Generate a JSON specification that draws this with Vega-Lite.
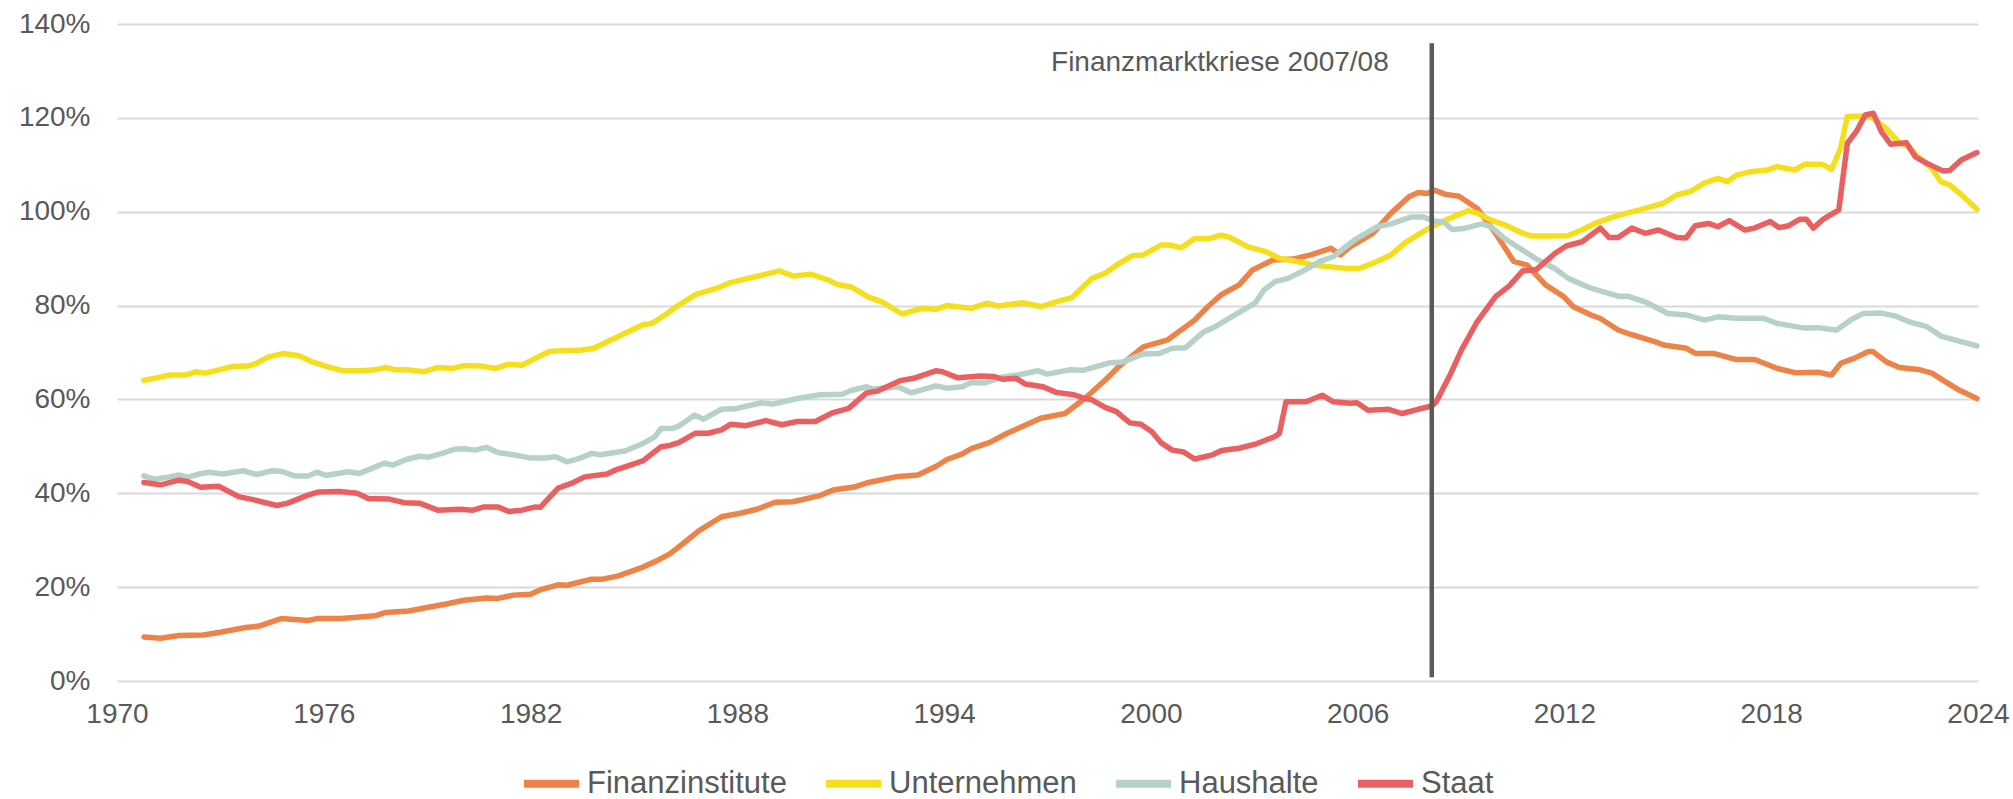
{
  "$schema": "https://vega.github.io/schema/vega-lite/v6.json",
  "width": 1861,
  "height": 657,
  "autosize": {"type": "none"},
  "padding": {"left": 117, "top": 24, "right": 35, "bottom": 118},
  "background": "white",
  "config": {"view": {"stroke": null}, "font": "Liberation Sans"},
  "datasets": {
    "series": [
      {"sector":"Finanzinstitute","year":1970.78,"value":9.4},{"sector":"Finanzinstitute","year":1971.27,"value":9.1},{"sector":"Finanzinstitute","year":1971.79,"value":9.7},{"sector":"Finanzinstitute","year":1972.5,"value":9.8},{"sector":"Finanzinstitute","year":1973.0,"value":10.4},{"sector":"Finanzinstitute","year":1973.73,"value":11.4},{"sector":"Finanzinstitute","year":1974.12,"value":11.7},{"sector":"Finanzinstitute","year":1974.76,"value":13.3},{"sector":"Finanzinstitute","year":1975.54,"value":12.9},{"sector":"Finanzinstitute","year":1975.8,"value":13.3},{"sector":"Finanzinstitute","year":1976.5,"value":13.3},{"sector":"Finanzinstitute","year":1976.97,"value":13.6},{"sector":"Finanzinstitute","year":1977.49,"value":13.9},{"sector":"Finanzinstitute","year":1977.8,"value":14.6},{"sector":"Finanzinstitute","year":1978.46,"value":14.9},{"sector":"Finanzinstitute","year":1979.04,"value":15.7},{"sector":"Finanzinstitute","year":1979.55,"value":16.4},{"sector":"Finanzinstitute","year":1980.07,"value":17.2},{"sector":"Finanzinstitute","year":1980.72,"value":17.7},{"sector":"Finanzinstitute","year":1981.05,"value":17.6},{"sector":"Finanzinstitute","year":1981.5,"value":18.3},{"sector":"Finanzinstitute","year":1982.0,"value":18.5},{"sector":"Finanzinstitute","year":1982.27,"value":19.4},{"sector":"Finanzinstitute","year":1982.8,"value":20.5},{"sector":"Finanzinstitute","year":1983.06,"value":20.4},{"sector":"Finanzinstitute","year":1983.77,"value":21.7},{"sector":"Finanzinstitute","year":1984.09,"value":21.7},{"sector":"Finanzinstitute","year":1984.55,"value":22.4},{"sector":"Finanzinstitute","year":1985.2,"value":24.1},{"sector":"Finanzinstitute","year":1985.66,"value":25.6},{"sector":"Finanzinstitute","year":1986.04,"value":27.1},{"sector":"Finanzinstitute","year":1986.43,"value":29.3},{"sector":"Finanzinstitute","year":1986.88,"value":32.0},{"sector":"Finanzinstitute","year":1987.54,"value":35.0},{"sector":"Finanzinstitute","year":1988.05,"value":35.7},{"sector":"Finanzinstitute","year":1988.57,"value":36.6},{"sector":"Finanzinstitute","year":1989.1,"value":38.1},{"sector":"Finanzinstitute","year":1989.61,"value":38.2},{"sector":"Finanzinstitute","year":1990.39,"value":39.5},{"sector":"Finanzinstitute","year":1990.78,"value":40.7},{"sector":"Finanzinstitute","year":1991.43,"value":41.4},{"sector":"Finanzinstitute","year":1991.81,"value":42.3},{"sector":"Finanzinstitute","year":1992.59,"value":43.5},{"sector":"Finanzinstitute","year":1993.24,"value":43.9},{"sector":"Finanzinstitute","year":1993.76,"value":45.7},{"sector":"Finanzinstitute","year":1994.08,"value":47.2},{"sector":"Finanzinstitute","year":1994.53,"value":48.4},{"sector":"Finanzinstitute","year":1994.79,"value":49.5},{"sector":"Finanzinstitute","year":1995.31,"value":50.8},{"sector":"Finanzinstitute","year":1995.83,"value":52.8},{"sector":"Finanzinstitute","year":1996.35,"value":54.5},{"sector":"Finanzinstitute","year":1996.8,"value":56.0},{"sector":"Finanzinstitute","year":1997.51,"value":57.0},{"sector":"Finanzinstitute","year":1998.1,"value":60.3},{"sector":"Finanzinstitute","year":1998.67,"value":64.1},{"sector":"Finanzinstitute","year":1999.07,"value":67.0},{"sector":"Finanzinstitute","year":1999.78,"value":71.2},{"sector":"Finanzinstitute","year":2000.49,"value":72.7},{"sector":"Finanzinstitute","year":2001.27,"value":76.9},{"sector":"Finanzinstitute","year":2001.66,"value":79.8},{"sector":"Finanzinstitute","year":2002.04,"value":82.3},{"sector":"Finanzinstitute","year":2002.56,"value":84.4},{"sector":"Finanzinstitute","year":2002.95,"value":87.6},{"sector":"Finanzinstitute","year":2003.54,"value":89.7},{"sector":"Finanzinstitute","year":2004.12,"value":89.9},{"sector":"Finanzinstitute","year":2004.64,"value":90.8},{"sector":"Finanzinstitute","year":2005.22,"value":92.2},{"sector":"Finanzinstitute","year":2005.5,"value":90.8},{"sector":"Finanzinstitute","year":2005.78,"value":92.5},{"sector":"Finanzinstitute","year":2006.44,"value":95.4},{"sector":"Finanzinstitute","year":2006.97,"value":99.7},{"sector":"Finanzinstitute","year":2007.49,"value":103.2},{"sector":"Finanzinstitute","year":2007.76,"value":104.1},{"sector":"Finanzinstitute","year":2008.02,"value":103.9},{"sector":"Finanzinstitute","year":2008.22,"value":104.6},{"sector":"Finanzinstitute","year":2008.55,"value":103.7},{"sector":"Finanzinstitute","year":2008.94,"value":103.3},{"sector":"Finanzinstitute","year":2009.47,"value":100.7},{"sector":"Finanzinstitute","year":2010.0,"value":95.4},{"sector":"Finanzinstitute","year":2010.53,"value":89.4},{"sector":"Finanzinstitute","year":2010.92,"value":88.6},{"sector":"Finanzinstitute","year":2011.45,"value":84.4},{"sector":"Finanzinstitute","year":2011.98,"value":81.9},{"sector":"Finanzinstitute","year":2012.25,"value":79.8},{"sector":"Finanzinstitute","year":2012.77,"value":78.0},{"sector":"Finanzinstitute","year":2013.03,"value":77.3},{"sector":"Finanzinstitute","year":2013.56,"value":74.8},{"sector":"Finanzinstitute","year":2013.83,"value":74.1},{"sector":"Finanzinstitute","year":2014.62,"value":72.3},{"sector":"Finanzinstitute","year":2014.88,"value":71.6},{"sector":"Finanzinstitute","year":2015.54,"value":70.9},{"sector":"Finanzinstitute","year":2015.8,"value":69.8},{"sector":"Finanzinstitute","year":2016.33,"value":69.8},{"sector":"Finanzinstitute","year":2016.99,"value":68.5},{"sector":"Finanzinstitute","year":2017.52,"value":68.5},{"sector":"Finanzinstitute","year":2018.18,"value":66.6},{"sector":"Finanzinstitute","year":2018.69,"value":65.7},{"sector":"Finanzinstitute","year":2019.35,"value":65.8},{"sector":"Finanzinstitute","year":2019.75,"value":65.2},{"sector":"Finanzinstitute","year":2020.02,"value":67.7},{"sector":"Finanzinstitute","year":2020.42,"value":68.8},{"sector":"Finanzinstitute","year":2020.82,"value":70.2},{"sector":"Finanzinstitute","year":2020.95,"value":70.2},{"sector":"Finanzinstitute","year":2021.34,"value":68.0},{"sector":"Finanzinstitute","year":2021.72,"value":66.8},{"sector":"Finanzinstitute","year":2022.27,"value":66.4},{"sector":"Finanzinstitute","year":2022.66,"value":65.6},{"sector":"Finanzinstitute","year":2023.05,"value":63.8},{"sector":"Finanzinstitute","year":2023.45,"value":62.0},{"sector":"Finanzinstitute","year":2023.97,"value":60.2},

      {"sector":"Unternehmen","year":1970.78,"value":64.1},{"sector":"Unternehmen","year":1971.14,"value":64.6},{"sector":"Unternehmen","year":1971.53,"value":65.2},{"sector":"Unternehmen","year":1971.98,"value":65.2},{"sector":"Unternehmen","year":1972.3,"value":65.9},{"sector":"Unternehmen","year":1972.56,"value":65.6},{"sector":"Unternehmen","year":1972.95,"value":66.3},{"sector":"Unternehmen","year":1973.34,"value":67.0},{"sector":"Unternehmen","year":1973.8,"value":67.1},{"sector":"Unternehmen","year":1974.05,"value":67.7},{"sector":"Unternehmen","year":1974.38,"value":69.0},{"sector":"Unternehmen","year":1974.83,"value":69.8},{"sector":"Unternehmen","year":1975.28,"value":69.3},{"sector":"Unternehmen","year":1975.67,"value":68.0},{"sector":"Unternehmen","year":1976.19,"value":66.8},{"sector":"Unternehmen","year":1976.58,"value":66.1},{"sector":"Unternehmen","year":1977.1,"value":66.1},{"sector":"Unternehmen","year":1977.49,"value":66.3},{"sector":"Unternehmen","year":1977.8,"value":66.8},{"sector":"Unternehmen","year":1978.07,"value":66.3},{"sector":"Unternehmen","year":1978.46,"value":66.3},{"sector":"Unternehmen","year":1978.91,"value":65.9},{"sector":"Unternehmen","year":1979.3,"value":66.8},{"sector":"Unternehmen","year":1979.75,"value":66.6},{"sector":"Unternehmen","year":1980.07,"value":67.2},{"sector":"Unternehmen","year":1980.59,"value":67.1},{"sector":"Unternehmen","year":1980.98,"value":66.6},{"sector":"Unternehmen","year":1981.37,"value":67.5},{"sector":"Unternehmen","year":1981.75,"value":67.3},{"sector":"Unternehmen","year":1982.15,"value":68.8},{"sector":"Unternehmen","year":1982.54,"value":70.2},{"sector":"Unternehmen","year":1982.93,"value":70.4},{"sector":"Unternehmen","year":1983.44,"value":70.5},{"sector":"Unternehmen","year":1983.84,"value":70.9},{"sector":"Unternehmen","year":1984.23,"value":72.3},{"sector":"Unternehmen","year":1984.74,"value":74.1},{"sector":"Unternehmen","year":1985.26,"value":75.9},{"sector":"Unternehmen","year":1985.52,"value":76.2},{"sector":"Unternehmen","year":1985.9,"value":78.0},{"sector":"Unternehmen","year":1986.3,"value":80.1},{"sector":"Unternehmen","year":1986.8,"value":82.4},{"sector":"Unternehmen","year":1987.41,"value":83.7},{"sector":"Unternehmen","year":1987.8,"value":84.9},{"sector":"Unternehmen","year":1988.31,"value":85.8},{"sector":"Unternehmen","year":1988.83,"value":86.7},{"sector":"Unternehmen","year":1989.22,"value":87.4},{"sector":"Unternehmen","year":1989.61,"value":86.3},{"sector":"Unternehmen","year":1990.13,"value":86.7},{"sector":"Unternehmen","year":1990.65,"value":85.4},{"sector":"Unternehmen","year":1990.91,"value":84.5},{"sector":"Unternehmen","year":1991.3,"value":84.0},{"sector":"Unternehmen","year":1991.81,"value":81.8},{"sector":"Unternehmen","year":1992.2,"value":80.8},{"sector":"Unternehmen","year":1992.78,"value":78.2},{"sector":"Unternehmen","year":1993.36,"value":79.4},{"sector":"Unternehmen","year":1993.76,"value":79.2},{"sector":"Unternehmen","year":1994.08,"value":80.0},{"sector":"Unternehmen","year":1994.79,"value":79.4},{"sector":"Unternehmen","year":1995.25,"value":80.5},{"sector":"Unternehmen","year":1995.57,"value":79.9},{"sector":"Unternehmen","year":1996.28,"value":80.6},{"sector":"Unternehmen","year":1996.8,"value":79.8},{"sector":"Unternehmen","year":1997.25,"value":80.8},{"sector":"Unternehmen","year":1997.71,"value":81.7},{"sector":"Unternehmen","year":1998.29,"value":85.8},{"sector":"Unternehmen","year":1998.67,"value":86.9},{"sector":"Unternehmen","year":1999.0,"value":88.6},{"sector":"Unternehmen","year":1999.45,"value":90.6},{"sector":"Unternehmen","year":1999.78,"value":90.8},{"sector":"Unternehmen","year":2000.29,"value":92.9},{"sector":"Unternehmen","year":2000.55,"value":92.9},{"sector":"Unternehmen","year":2000.88,"value":92.3},{"sector":"Unternehmen","year":2001.27,"value":94.3},{"sector":"Unternehmen","year":2001.72,"value":94.3},{"sector":"Unternehmen","year":2002.04,"value":95.0},{"sector":"Unternehmen","year":2002.3,"value":94.5},{"sector":"Unternehmen","year":2002.82,"value":92.5},{"sector":"Unternehmen","year":2003.34,"value":91.5},{"sector":"Unternehmen","year":2003.72,"value":90.1},{"sector":"Unternehmen","year":2004.24,"value":89.4},{"sector":"Unternehmen","year":2004.76,"value":88.6},{"sector":"Unternehmen","year":2005.16,"value":88.3},{"sector":"Unternehmen","year":2005.7,"value":87.9},{"sector":"Unternehmen","year":2006.04,"value":87.9},{"sector":"Unternehmen","year":2006.44,"value":89.0},{"sector":"Unternehmen","year":2006.97,"value":90.8},{"sector":"Unternehmen","year":2007.36,"value":93.3},{"sector":"Unternehmen","year":2007.89,"value":95.7},{"sector":"Unternehmen","year":2008.15,"value":96.8},{"sector":"Unternehmen","year":2008.55,"value":98.2},{"sector":"Unternehmen","year":2009.2,"value":100.2},{"sector":"Unternehmen","year":2009.47,"value":99.7},{"sector":"Unternehmen","year":2009.87,"value":98.2},{"sector":"Unternehmen","year":2010.26,"value":97.2},{"sector":"Unternehmen","year":2010.79,"value":95.4},{"sector":"Unternehmen","year":2011.06,"value":94.8},{"sector":"Unternehmen","year":2011.58,"value":94.8},{"sector":"Unternehmen","year":2012.11,"value":94.9},{"sector":"Unternehmen","year":2012.5,"value":96.1},{"sector":"Unternehmen","year":2012.89,"value":97.5},{"sector":"Unternehmen","year":2013.42,"value":98.9},{"sector":"Unternehmen","year":2013.81,"value":99.7},{"sector":"Unternehmen","year":2014.34,"value":100.7},{"sector":"Unternehmen","year":2014.87,"value":101.8},{"sector":"Unternehmen","year":2015.26,"value":103.6},{"sector":"Unternehmen","year":2015.66,"value":104.3},{"sector":"Unternehmen","year":2016.05,"value":106.1},{"sector":"Unternehmen","year":2016.45,"value":107.1},{"sector":"Unternehmen","year":2016.73,"value":106.4},{"sector":"Unternehmen","year":2016.99,"value":107.8},{"sector":"Unternehmen","year":2017.38,"value":108.5},{"sector":"Unternehmen","year":2017.9,"value":108.9},{"sector":"Unternehmen","year":2018.17,"value":109.6},{"sector":"Unternehmen","year":2018.69,"value":108.9},{"sector":"Unternehmen","year":2018.97,"value":110.1},{"sector":"Unternehmen","year":2019.49,"value":110.1},{"sector":"Unternehmen","year":2019.75,"value":109.0},{"sector":"Unternehmen","year":2020.01,"value":113.5},{"sector":"Unternehmen","year":2020.21,"value":120.3},{"sector":"Unternehmen","year":2020.67,"value":120.4},{"sector":"Unternehmen","year":2020.93,"value":120.0},{"sector":"Unternehmen","year":2021.33,"value":117.8},{"sector":"Unternehmen","year":2021.72,"value":114.6},{"sector":"Unternehmen","year":2021.98,"value":113.9},{"sector":"Unternehmen","year":2022.27,"value":111.7},{"sector":"Unternehmen","year":2022.66,"value":109.2},{"sector":"Unternehmen","year":2022.92,"value":106.4},{"sector":"Unternehmen","year":2023.18,"value":105.7},{"sector":"Unternehmen","year":2023.58,"value":103.2},{"sector":"Unternehmen","year":2023.97,"value":100.5},

      {"sector":"Haushalte","year":1970.78,"value":43.7},{"sector":"Haushalte","year":1971.07,"value":43.0},{"sector":"Haushalte","year":1971.53,"value":43.5},{"sector":"Haushalte","year":1971.79,"value":43.9},{"sector":"Haushalte","year":1972.05,"value":43.4},{"sector":"Haushalte","year":1972.37,"value":44.1},{"sector":"Haushalte","year":1972.69,"value":44.5},{"sector":"Haushalte","year":1973.08,"value":44.1},{"sector":"Haushalte","year":1973.66,"value":44.8},{"sector":"Haushalte","year":1974.05,"value":44.0},{"sector":"Haushalte","year":1974.51,"value":44.8},{"sector":"Haushalte","year":1974.76,"value":44.7},{"sector":"Haushalte","year":1975.15,"value":43.7},{"sector":"Haushalte","year":1975.54,"value":43.7},{"sector":"Haushalte","year":1975.8,"value":44.5},{"sector":"Haushalte","year":1976.06,"value":43.8},{"sector":"Haushalte","year":1976.7,"value":44.6},{"sector":"Haushalte","year":1977.03,"value":44.2},{"sector":"Haushalte","year":1977.36,"value":45.2},{"sector":"Haushalte","year":1977.75,"value":46.4},{"sector":"Haushalte","year":1978.0,"value":46.0},{"sector":"Haushalte","year":1978.39,"value":47.2},{"sector":"Haushalte","year":1978.78,"value":47.9},{"sector":"Haushalte","year":1979.04,"value":47.7},{"sector":"Haushalte","year":1979.43,"value":48.5},{"sector":"Haushalte","year":1979.81,"value":49.4},{"sector":"Haushalte","year":1980.07,"value":49.5},{"sector":"Haushalte","year":1980.39,"value":49.2},{"sector":"Haushalte","year":1980.72,"value":49.8},{"sector":"Haushalte","year":1981.05,"value":48.7},{"sector":"Haushalte","year":1981.5,"value":48.2},{"sector":"Haushalte","year":1982.01,"value":47.5},{"sector":"Haushalte","year":1982.41,"value":47.5},{"sector":"Haushalte","year":1982.73,"value":47.8},{"sector":"Haushalte","year":1983.06,"value":46.7},{"sector":"Haushalte","year":1983.44,"value":47.5},{"sector":"Haushalte","year":1983.77,"value":48.5},{"sector":"Haushalte","year":1984.02,"value":48.2},{"sector":"Haushalte","year":1984.74,"value":49.0},{"sector":"Haushalte","year":1985.26,"value":50.6},{"sector":"Haushalte","year":1985.6,"value":52.0},{"sector":"Haushalte","year":1985.79,"value":53.8},{"sector":"Haushalte","year":1986.1,"value":53.8},{"sector":"Haushalte","year":1986.3,"value":54.3},{"sector":"Haushalte","year":1986.76,"value":56.7},{"sector":"Haushalte","year":1987.02,"value":55.8},{"sector":"Haushalte","year":1987.54,"value":57.9},{"sector":"Haushalte","year":1987.93,"value":58.0},{"sector":"Haushalte","year":1988.7,"value":59.3},{"sector":"Haushalte","year":1989.03,"value":59.0},{"sector":"Haushalte","year":1989.74,"value":60.2},{"sector":"Haushalte","year":1990.39,"value":61.0},{"sector":"Haushalte","year":1991.04,"value":61.1},{"sector":"Haushalte","year":1991.3,"value":61.9},{"sector":"Haushalte","year":1991.75,"value":62.7},{"sector":"Haushalte","year":1991.94,"value":62.2},{"sector":"Haushalte","year":1992.66,"value":62.7},{"sector":"Haushalte","year":1993.04,"value":61.4},{"sector":"Haushalte","year":1993.76,"value":62.9},{"sector":"Haushalte","year":1994.08,"value":62.4},{"sector":"Haushalte","year":1994.53,"value":62.7},{"sector":"Haushalte","year":1994.79,"value":63.6},{"sector":"Haushalte","year":1995.18,"value":63.5},{"sector":"Haushalte","year":1995.7,"value":64.8},{"sector":"Haushalte","year":1996.22,"value":65.3},{"sector":"Haushalte","year":1996.73,"value":66.1},{"sector":"Haushalte","year":1996.99,"value":65.4},{"sector":"Haushalte","year":1997.64,"value":66.3},{"sector":"Haushalte","year":1998.03,"value":66.2},{"sector":"Haushalte","year":1998.41,"value":67.0},{"sector":"Haushalte","year":1998.81,"value":67.8},{"sector":"Haushalte","year":1999.19,"value":68.0},{"sector":"Haushalte","year":1999.78,"value":69.7},{"sector":"Haushalte","year":2000.24,"value":69.8},{"sector":"Haushalte","year":2000.62,"value":70.9},{"sector":"Haushalte","year":2001.0,"value":71.0},{"sector":"Haushalte","year":2001.53,"value":74.4},{"sector":"Haushalte","year":2001.79,"value":75.2},{"sector":"Haushalte","year":2002.5,"value":78.3},{"sector":"Haushalte","year":2003.02,"value":80.5},{"sector":"Haushalte","year":2003.28,"value":83.3},{"sector":"Haushalte","year":2003.6,"value":85.1},{"sector":"Haushalte","year":2003.98,"value":85.8},{"sector":"Haushalte","year":2004.5,"value":87.7},{"sector":"Haushalte","year":2004.9,"value":89.4},{"sector":"Haushalte","year":2005.29,"value":90.4},{"sector":"Haushalte","year":2005.91,"value":94.0},{"sector":"Haushalte","year":2006.57,"value":96.8},{"sector":"Haushalte","year":2006.97,"value":97.4},{"sector":"Haushalte","year":2007.56,"value":98.9},{"sector":"Haushalte","year":2007.89,"value":98.9},{"sector":"Haushalte","year":2008.28,"value":97.9},{"sector":"Haushalte","year":2008.48,"value":97.9},{"sector":"Haushalte","year":2008.74,"value":96.2},{"sector":"Haushalte","year":2009.08,"value":96.4},{"sector":"Haushalte","year":2009.6,"value":97.4},{"sector":"Haushalte","year":2009.87,"value":96.8},{"sector":"Haushalte","year":2010.26,"value":94.3},{"sector":"Haushalte","year":2010.66,"value":92.4},{"sector":"Haushalte","year":2011.19,"value":89.9},{"sector":"Haushalte","year":2011.72,"value":87.9},{"sector":"Haushalte","year":2012.11,"value":85.8},{"sector":"Haushalte","year":2012.77,"value":83.7},{"sector":"Haushalte","year":2013.56,"value":82.0},{"sector":"Haushalte","year":2013.83,"value":82.0},{"sector":"Haushalte","year":2014.34,"value":80.8},{"sector":"Haushalte","year":2015.0,"value":78.3},{"sector":"Haushalte","year":2015.54,"value":78.0},{"sector":"Haushalte","year":2016.07,"value":76.9},{"sector":"Haushalte","year":2016.45,"value":77.6},{"sector":"Haushalte","year":2016.99,"value":77.3},{"sector":"Haushalte","year":2017.77,"value":77.3},{"sector":"Haushalte","year":2018.17,"value":76.2},{"sector":"Haushalte","year":2018.96,"value":75.2},{"sector":"Haushalte","year":2019.35,"value":75.3},{"sector":"Haushalte","year":2019.9,"value":74.8},{"sector":"Haushalte","year":2020.34,"value":77.1},{"sector":"Haushalte","year":2020.67,"value":78.3},{"sector":"Haushalte","year":2021.19,"value":78.4},{"sector":"Haushalte","year":2021.59,"value":77.8},{"sector":"Haushalte","year":2021.98,"value":76.6},{"sector":"Haushalte","year":2022.52,"value":75.5},{"sector":"Haushalte","year":2022.92,"value":73.5},{"sector":"Haushalte","year":2023.32,"value":72.7},{"sector":"Haushalte","year":2023.97,"value":71.4},

      {"sector":"Staat","year":1970.78,"value":42.3},{"sector":"Staat","year":1971.27,"value":41.8},{"sector":"Staat","year":1971.79,"value":42.8},{"sector":"Staat","year":1972.05,"value":42.5},{"sector":"Staat","year":1972.43,"value":41.3},{"sector":"Staat","year":1972.95,"value":41.5},{"sector":"Staat","year":1973.53,"value":39.3},{"sector":"Staat","year":1973.98,"value":38.6},{"sector":"Staat","year":1974.64,"value":37.4},{"sector":"Staat","year":1974.96,"value":37.9},{"sector":"Staat","year":1975.54,"value":39.6},{"sector":"Staat","year":1975.86,"value":40.3},{"sector":"Staat","year":1976.45,"value":40.4},{"sector":"Staat","year":1976.97,"value":40.0},{"sector":"Staat","year":1977.29,"value":38.9},{"sector":"Staat","year":1977.87,"value":38.8},{"sector":"Staat","year":1978.33,"value":38.0},{"sector":"Staat","year":1978.78,"value":37.9},{"sector":"Staat","year":1979.3,"value":36.4},{"sector":"Staat","year":1979.95,"value":36.6},{"sector":"Staat","year":1980.33,"value":36.4},{"sector":"Staat","year":1980.65,"value":37.1},{"sector":"Staat","year":1981.05,"value":37.1},{"sector":"Staat","year":1981.37,"value":36.1},{"sector":"Staat","year":1981.75,"value":36.4},{"sector":"Staat","year":1982.15,"value":37.1},{"sector":"Staat","year":1982.28,"value":37.0},{"sector":"Staat","year":1982.8,"value":41.1},{"sector":"Staat","year":1983.18,"value":42.1},{"sector":"Staat","year":1983.57,"value":43.5},{"sector":"Staat","year":1984.22,"value":44.1},{"sector":"Staat","year":1984.48,"value":45.0},{"sector":"Staat","year":1985.26,"value":46.9},{"sector":"Staat","year":1985.78,"value":49.9},{"sector":"Staat","year":1986.04,"value":50.2},{"sector":"Staat","year":1986.3,"value":50.8},{"sector":"Staat","year":1986.79,"value":52.8},{"sector":"Staat","year":1987.15,"value":52.8},{"sector":"Staat","year":1987.54,"value":53.5},{"sector":"Staat","year":1987.8,"value":54.7},{"sector":"Staat","year":1988.25,"value":54.4},{"sector":"Staat","year":1988.83,"value":55.5},{"sector":"Staat","year":1989.29,"value":54.6},{"sector":"Staat","year":1989.74,"value":55.3},{"sector":"Staat","year":1990.26,"value":55.3},{"sector":"Staat","year":1990.78,"value":57.2},{"sector":"Staat","year":1991.23,"value":58.1},{"sector":"Staat","year":1991.75,"value":61.4},{"sector":"Staat","year":1992.07,"value":61.8},{"sector":"Staat","year":1992.72,"value":64.0},{"sector":"Staat","year":1993.11,"value":64.5},{"sector":"Staat","year":1993.76,"value":66.1},{"sector":"Staat","year":1993.95,"value":65.9},{"sector":"Staat","year":1994.4,"value":64.6},{"sector":"Staat","year":1995.04,"value":65.0},{"sector":"Staat","year":1995.44,"value":64.9},{"sector":"Staat","year":1995.7,"value":64.3},{"sector":"Staat","year":1996.09,"value":64.5},{"sector":"Staat","year":1996.35,"value":63.3},{"sector":"Staat","year":1996.87,"value":62.7},{"sector":"Staat","year":1997.25,"value":61.5},{"sector":"Staat","year":1997.77,"value":61.0},{"sector":"Staat","year":1998.09,"value":60.2},{"sector":"Staat","year":1998.29,"value":59.9},{"sector":"Staat","year":1998.67,"value":58.3},{"sector":"Staat","year":1999.0,"value":57.4},{"sector":"Staat","year":1999.39,"value":55.0},{"sector":"Staat","year":1999.71,"value":54.7},{"sector":"Staat","year":2000.03,"value":53.1},{"sector":"Staat","year":2000.29,"value":50.8},{"sector":"Staat","year":2000.62,"value":49.2},{"sector":"Staat","year":2000.95,"value":48.8},{"sector":"Staat","year":2001.27,"value":47.3},{"sector":"Staat","year":2001.79,"value":48.2},{"sector":"Staat","year":2002.05,"value":49.1},{"sector":"Staat","year":2002.56,"value":49.6},{"sector":"Staat","year":2003.08,"value":50.6},{"sector":"Staat","year":2003.6,"value":52.1},{"sector":"Staat","year":2003.73,"value":52.8},{"sector":"Staat","year":2003.92,"value":59.5},{"sector":"Staat","year":2004.5,"value":59.5},{"sector":"Staat","year":2004.97,"value":60.9},{"sector":"Staat","year":2005.29,"value":59.5},{"sector":"Staat","year":2005.78,"value":59.2},{"sector":"Staat","year":2005.98,"value":59.3},{"sector":"Staat","year":2006.3,"value":57.7},{"sector":"Staat","year":2006.9,"value":57.9},{"sector":"Staat","year":2007.29,"value":57.0},{"sector":"Staat","year":2007.75,"value":57.9},{"sector":"Staat","year":2008.15,"value":58.6},{"sector":"Staat","year":2008.28,"value":59.5},{"sector":"Staat","year":2008.68,"value":65.2},{"sector":"Staat","year":2009.01,"value":70.5},{"sector":"Staat","year":2009.47,"value":76.6},{"sector":"Staat","year":2010.0,"value":81.9},{"sector":"Staat","year":2010.4,"value":84.2},{"sector":"Staat","year":2010.79,"value":87.4},{"sector":"Staat","year":2011.19,"value":87.7},{"sector":"Staat","year":2011.72,"value":91.1},{"sector":"Staat","year":2012.05,"value":92.7},{"sector":"Staat","year":2012.51,"value":93.6},{"sector":"Staat","year":2013.04,"value":96.5},{"sector":"Staat","year":2013.3,"value":94.5},{"sector":"Staat","year":2013.56,"value":94.5},{"sector":"Staat","year":2013.96,"value":96.5},{"sector":"Staat","year":2014.34,"value":95.4},{"sector":"Staat","year":2014.73,"value":96.1},{"sector":"Staat","year":2015.26,"value":94.5},{"sector":"Staat","year":2015.53,"value":94.4},{"sector":"Staat","year":2015.79,"value":97.0},{"sector":"Staat","year":2016.18,"value":97.5},{"sector":"Staat","year":2016.45,"value":96.8},{"sector":"Staat","year":2016.78,"value":98.1},{"sector":"Staat","year":2017.24,"value":96.1},{"sector":"Staat","year":2017.51,"value":96.5},{"sector":"Staat","year":2017.97,"value":97.9},{"sector":"Staat","year":2018.23,"value":96.6},{"sector":"Staat","year":2018.5,"value":97.0},{"sector":"Staat","year":2018.83,"value":98.4},{"sector":"Staat","year":2019.02,"value":98.4},{"sector":"Staat","year":2019.22,"value":96.5},{"sector":"Staat","year":2019.49,"value":98.3},{"sector":"Staat","year":2019.96,"value":100.4},{"sector":"Staat","year":2020.21,"value":114.6},{"sector":"Staat","year":2020.47,"value":117.1},{"sector":"Staat","year":2020.73,"value":120.6},{"sector":"Staat","year":2020.96,"value":121.0},{"sector":"Staat","year":2021.19,"value":117.1},{"sector":"Staat","year":2021.46,"value":114.4},{"sector":"Staat","year":2021.92,"value":114.7},{"sector":"Staat","year":2022.18,"value":111.7},{"sector":"Staat","year":2022.52,"value":110.3},{"sector":"Staat","year":2022.98,"value":108.7},{"sector":"Staat","year":2023.18,"value":108.8},{"sector":"Staat","year":2023.51,"value":111.0},{"sector":"Staat","year":2023.97,"value":112.6}
    ]
  },
  "layer": [
    {
      "data": {"name": "series"},
      "mark": {"type": "line", "strokeWidth": 5.5, "strokeJoin": "round", "strokeCap": "round"},
      "encoding": {
        "x": {
          "field": "year", "type": "quantitative",
          "scale": {"domain": [1970, 2024], "nice": false, "zero": false},
          "axis": {
            "title": null, "values": [1970, 1976, 1982, 1988, 1994, 2000, 2006, 2012, 2018, 2024],
            "format": "d", "grid": false, "domain": false, "ticks": false, "tickSize": 0,
            "labelPadding": 19, "labelFontSize": 28, "labelColor": "#595959", "labelFont": "Liberation Sans",
            "labelFlush": false, "labelOverlap": false
          }
        },
        "y": {
          "field": "value", "type": "quantitative",
          "scale": {"domain": [0, 140], "nice": false},
          "axis": {
            "title": null, "values": [0, 20, 40, 60, 80, 100, 120, 140],
            "labelExpr": "datum.value + '%'", "grid": true, "gridColor": "#D9D9D9", "gridWidth": 2,
            "domain": false, "ticks": false, "tickSize": 0, "labelPadding": 27,
            "labelFontSize": 28, "labelColor": "#595959", "labelFont": "Liberation Sans"
          }
        },
        "color": {
          "field": "sector", "type": "nominal",
          "scale": {
            "domain": ["Finanzinstitute", "Unternehmen", "Haushalte", "Staat"],
            "range": ["#ED8347", "#F5DF1C", "#B5D1C8", "#EA5F5F"]
          },
          "legend": {
            "title": null, "orient": "none", "legendX": 403, "legendY": 728, "direction": "horizontal",
            "symbolType": "stroke", "symbolSize": 3025, "symbolStrokeWidth": 8,
            "labelFontSize": 31, "labelColor": "#595959", "labelFont": "Liberation Sans",
            "labelOffset": 4, "columnPadding": 23, "padding": 0, "labelLimit": 0
          }
        }
      }
    },
    {
      "data": {"values": [{}]},
      "mark": {"type": "rule", "color": "#595959", "strokeWidth": 4.5},
      "encoding": {"x": {"datum": 2008.15}, "y": {"datum": 0.8}, "y2": {"datum": 135.9}}
    },
    {
      "data": {"values": [{}]},
      "mark": {"type": "text", "align": "right", "baseline": "middle", "dx": -43, "fontSize": 28, "font": "Liberation Sans", "color": "#595959"},
      "encoding": {"x": {"datum": 2008.15}, "y": {"datum": 131.7}, "text": {"value": "Finanzmarktkriese 2007/08"}}
    }
  ]
}
